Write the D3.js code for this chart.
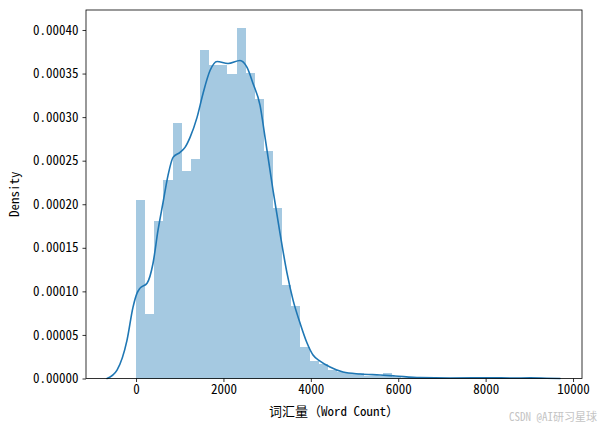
<!DOCTYPE html>
<html><head><meta charset="utf-8">
<script src="https://cdn.jsdelivr.net/npm/d3@7"></script>
<style>
body{margin:0;background:#fff;}
text{font-family:"Noto Sans Mono CJK SC","SimHei","Noto Sans CJK SC",monospace;}
</style>
</head><body>
<svg id="c" width="600" height="429"></svg>
<script>
// Histogram (density) values, bins start at 0 with equal width
const binStart = 0;
const binWidth = 209;
const histDensity = [
  0.0002046, 0.0000739, 0.0001805, 0.0002275, 0.0002928, 0.0002378, 0.0002515, 0.0003765,
  0.0003593, 0.0003600, 0.0003490, 0.0004028, 0.0003501, 0.0003203, 0.0002607, 0.0001954,
  0.0001072, 0.0000831, 0.0000361, 0.0000201, 0.0000166, 0.0000097, 0.0000070, 0.0000063,
  0.0000063, 0.0000032, 0.0000032, 0.0000063, 0.0000020, 0.0000010, 0.0000005, 0.0000005,
  0.0000005, 0.0000005, 0.0000010, 0.0000005, 0.0000005, 0.0000005, 0.0000005, 0.0000005,
  0.0000010, 0.0000005, 0.0000005, 0.0000005
];
// KDE curve
const kdeX = [-664,-435,-206,-69,23,92,252,389,503,618,732,847,1007,1121,1236,1396,1533,1693,1854,
  2105,2380,2540,2677,2838,2952,3135,3295,3455,3593,3753,3913,4050,4211,4439,4737,5126,5584,5927,
  6499,7185,8100,8600,9016,9400,9703];
const kdeY = [0,0.0000097,0.0000441,0.0000819,0.000098,0.0001037,0.0001094,0.0001323,0.0001702,
  0.0002020,0.0002332,0.0002538,0.0002596,0.0002653,0.0002768,0.0002997,0.0003272,0.0003535,
  0.0003639,0.0003616,0.000365,0.000357,0.0003386,0.0003134,0.0002768,0.000216,0.0001667,
  0.0001209,0.0000899,0.0000636,0.0000407,0.0000269,0.00002,0.0000132,0.0000074,0.0000052,
  0.000004,0.0000029,0.000001,0.0000006,0.0000009,0.0000005,0.0000007,0.0000003,0];
const xTicks = [0,2000,4000,6000,8000,10000];
const yTicks = [0,0.00005,0.0001,0.00015,0.0002,0.00025,0.0003,0.00035,0.0004];
const xLabel = "词汇量（Word Count）";
const yLabel = "Density";
const watermark = "CSDN @AI研习星球";

const svg = d3.select("#c");
const m = {l:86, r:582, t:10, b:378.5};
const x = d3.scaleLinear().domain([-1145, 10205]).range([m.l, m.r]);
const y = d3.scaleLinear().domain([0, d3.max(histDensity)*1.05]).range([m.b, m.t]);

const bins = histDensity.map((d,i)=>({x0: binStart + i*binWidth, x1: binStart + (i+1)*binWidth, v: d}));
svg.append("g").selectAll("rect").data(bins).join("rect")
  .attr("x", d=>x(d.x0)).attr("width", d=>x(d.x1)-x(d.x0))
  .attr("y", d=>y(d.v)).attr("height", d=>y(0)-y(d.v))
  .attr("fill", "#1f77b4").attr("fill-opacity", 0.4).attr("shape-rendering","crispEdges");

const line = d3.line().x((d,i)=>x(kdeX[i])).y(d=>y(d)).curve(d3.curveMonotoneX);
svg.append("path").datum(kdeY).attr("d", line)
  .attr("fill","none").attr("stroke","#1f77b4").attr("stroke-width",1.6)
  .attr("stroke-linejoin","round").attr("stroke-linecap","round");

const xAxis = d3.axisBottom(x).tickValues(xTicks).tickSize(3.5).tickPadding(3).tickFormat(d3.format("d"));
const gx = svg.append("g").attr("transform",`translate(0,${m.b})`).call(xAxis);
const yAxis = d3.axisLeft(y).tickValues(yTicks).tickSize(3.5).tickPadding(4).tickFormat(d3.format(".5f"));
const gy = svg.append("g").attr("transform",`translate(${m.l},0)`).call(yAxis);
[gx,gy].forEach(g=>{
  g.select(".domain").remove();
  g.selectAll(".tick line").attr("stroke","#000").attr("stroke-width",0.8);
  g.selectAll(".tick text").attr("fill","#000").style("font-size","13px");
});

svg.append("rect").attr("x",m.l).attr("y",m.t).attr("width",m.r-m.l).attr("height",m.b-m.t)
  .attr("fill","none").attr("stroke","#000").attr("stroke-width",0.8);

svg.append("text").attr("x",(m.l+m.r)/2).attr("y",416).attr("text-anchor","middle")
  .style("font-size","13px").attr("fill","#000").text(xLabel);
svg.append("text").attr("transform",`translate(19,${(m.t+m.b)/2}) rotate(-90)`).attr("text-anchor","middle")
  .style("font-size","13px").attr("fill","#000").text(yLabel);
svg.append("text").attr("x",597).attr("y",421).attr("text-anchor","end")
  .style("font-size","11px").attr("fill","#c4c4c4").text(watermark);
</script>
</body></html>
